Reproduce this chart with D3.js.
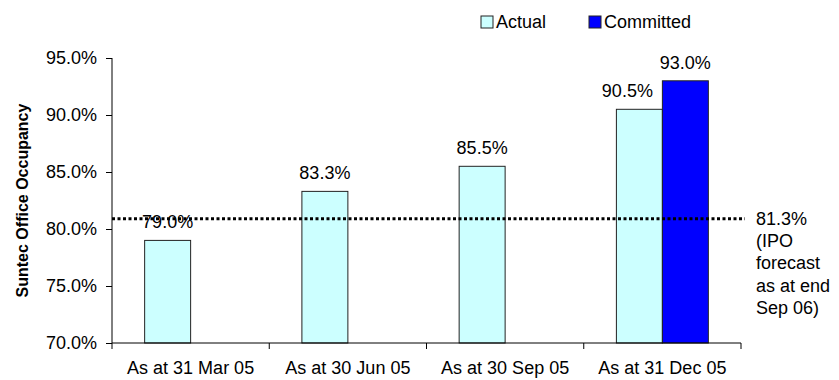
<!DOCTYPE html>
<html>
<head>
<meta charset="utf-8">
<script src="https://cdn.jsdelivr.net/npm/d3@7"></script>
<style>
  body { margin: 0; background: #fff; }
  svg text { font-family: "Liberation Sans", Arial, sans-serif; fill: #000; }
</style>
</head>
<body>
<svg id="chart" width="839" height="380"></svg>
<script>
// data
var categories = ["As at 31 Mar 05", "As at 30 Jun 05", "As at 30 Sep 05", "As at 31 Dec 05"];
var seriesNames = ["Actual", "Committed"];
var actualValues = [79.0, 83.3, 85.5, 90.5];
var committedValues = [null, null, null, 93.0];
var yTicks = [70, 75, 80, 85, 90, 95];
var forecastLevel = 80.9;
var forecastLabel = ["81.3%", "(IPO", "forecast", "as at end", "Sep 06)"];
var colors = { "Actual": "#ccffff", "Committed": "#0000ff" };

var svg = d3.select("#chart");
var mLeft = 112, mRight = 741, mTop = 58, mBottom = 343;
var fs = "18px";

var x = d3.scaleBand().domain(categories).range([mLeft, mRight]).padding(0);
var xSub = d3.scaleBand().domain(seriesNames).range([0, x.bandwidth()])
    .paddingInner(0).paddingOuter(0.71);
var y = d3.scaleLinear().domain([70, 95]).range([mBottom, mTop]);

// y axis
var yAxis = svg.append("g")
    .attr("transform", "translate(" + mLeft + ",0)")
    .call(d3.axisLeft(y).tickValues(yTicks).tickSize(6).tickPadding(9)
      .tickFormat(function(d) { return d.toFixed(1) + "%"; }));
yAxis.selectAll("text").style("font-size", fs).attr("font-family", null);
yAxis.select(".domain").attr("d", "M0," + mTop + "V" + mBottom).attr("stroke", "#000");
yAxis.selectAll(".tick line").attr("stroke", "#000");

// bars
var rows = [];
categories.forEach(function(c, i) {
  rows.push({ cat: c, s: "Actual", v: actualValues[i] });
  if (committedValues[i] != null) rows.push({ cat: c, s: "Committed", v: committedValues[i] });
});

svg.selectAll(".bar").data(rows).enter().append("rect")
  .attr("class", "bar")
  .attr("x", function(d) { return x(d.cat) + xSub(d.s); })
  .attr("y", function(d) { return y(d.v); })
  .attr("width", xSub.bandwidth())
  .attr("height", function(d) { return mBottom - y(d.v); })
  .attr("fill", function(d) { return colors[d.s]; })
  .attr("stroke", "#222").attr("stroke-width", 1);

// x axis
var xAxis = svg.append("g").attr("transform", "translate(0," + mBottom + ")");
xAxis.append("line").attr("x1", mLeft).attr("x2", mRight).attr("stroke", "#000");
var bounds = categories.map(function(c) { return x(c); }).concat([mRight]);
xAxis.selectAll(".xt").data(bounds).enter().append("line")
  .attr("x1", function(d) { return d; }).attr("x2", function(d) { return d; })
  .attr("y1", 0).attr("y2", 6).attr("stroke", "#000");
xAxis.selectAll(".xl").data(categories).enter().append("text")
  .attr("x", function(d) { return x(d) + x.bandwidth() / 2; })
  .attr("y", 31).attr("text-anchor", "middle").style("font-size", fs)
  .text(function(d) { return d; });

// forecast line
svg.append("line")
  .attr("x1", mLeft).attr("x2", 745)
  .attr("y1", y(forecastLevel)).attr("y2", y(forecastLevel))
  .attr("stroke", "#000").attr("stroke-width", 3).attr("stroke-dasharray", "3,2.5");

// value labels
svg.selectAll(".vl").data(rows).enter().append("text")
  .attr("x", function(d) {
    var cx = x(d.cat) + xSub(d.s) + xSub.bandwidth() / 2;
    return (d.s === "Actual" && committedValues[categories.indexOf(d.cat)] != null) ? cx - 12 : cx;
  })
  .attr("y", function(d) { return y(d.v) - 12; })
  .attr("text-anchor", "middle").style("font-size", fs)
  .text(function(d) { return d.v.toFixed(1) + "%"; });

// forecast annotation
svg.append("text").attr("x", 756).attr("y", y(forecastLevel) + 6).style("font-size", fs)
  .selectAll("tspan").data(forecastLabel).enter().append("tspan")
  .attr("x", 756).attr("dy", function(d, i) { return i === 0 ? 0 : 22.3; })
  .text(function(d) { return d; });

// y title
svg.append("text")
  .attr("transform", "translate(28," + ((mTop + mBottom) / 2) + ") rotate(-90)")
  .attr("text-anchor", "middle").style("font-size", "16px").style("font-weight", "bold")
  .text("Suntec Office Occupancy");

// legend
var legendPos = [481, 589];
var lg = svg.selectAll(".lg").data(seriesNames).enter().append("g")
  .attr("transform", function(d, i) { return "translate(" + legendPos[i] + ",16)"; });
lg.append("rect").attr("width", 12).attr("height", 12)
  .attr("fill", function(d) { return colors[d]; }).attr("stroke", "#222");
lg.append("text").attr("x", 15).attr("y", 12).style("font-size", fs)
  .text(function(d) { return d; });
</script>
</body>
</html>
